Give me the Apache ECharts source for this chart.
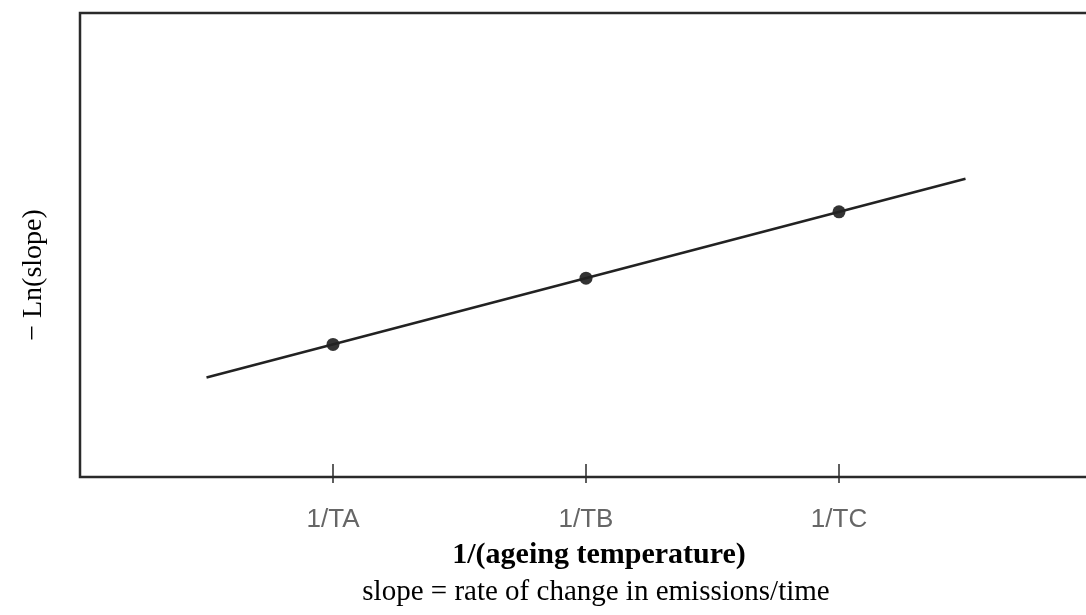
<!DOCTYPE html>
<html><head><meta charset="utf-8">
<script src="https://cdn.jsdelivr.net/npm/echarts@6/dist/echarts.min.js"></script>
<style>html,body{margin:0;padding:0;background:#fff}#c{width:1086px;height:615px}</style>
</head><body><div id="c"></div>
<script>
// tick positions (1/T values, arbitrary units) and labels
const tickValues = [1, 2, 3];
const tickLabels = ['1/TA', '1/TB', '1/TC'];
// measured points: -Ln(slope) at each ageing temperature
const pointX = [1, 2, 3];
const pointY = [2, 3, 4];
// fitted line end points
const fitX = [0.5, 3.5];
const fitY = [1.5, 4.5];
const xTitle = '1/(ageing temperature)';
const xSubtitle = 'slope = rate of change in emissions/time';
const yTitle = '\u2212 Ln(slope)';

const labelMap = {};
tickValues.forEach((v, i) => labelMap[v] = tickLabels[i]);

const chart = echarts.init(document.getElementById('c'));
chart.setOption({
  animation: false,
  grid: { left: 80, top: 13, width: 1012, height: 464, outerBoundsMode: 'none', containLabel: false,
    show: true, borderWidth: 2.5, borderColor: '#2a2a2a', backgroundColor: 'transparent' },
  xAxis: [{
    type: 'value', min: 0, max: 4, interval: 1,
    axisLine: { show: false },
    splitLine: { show: false },
    axisTick: { show: true, length: 6, inside: false, lineStyle: { color: '#2a2a2a', width: 1.5 }, customValues: tickValues },
    axisLabel: { show: true, margin: 30, fontFamily: 'Liberation Sans, Arial, sans-serif', fontSize: 26, color: '#666',
      customValues: tickValues, formatter: v => labelMap[v] || '' }
  }, {
    type: 'value', min: 0, max: 4, interval: 1, position: 'bottom',
    axisLine: { show: false }, splitLine: { show: false }, axisLabel: { show: false },
    axisTick: { show: true, inside: true, length: 13, lineStyle: { color: '#2a2a2a', width: 1.5 }, customValues: tickValues }
  }],
  yAxis: {
    type: 'value', min: 0, max: 7,
    axisLine: { show: false }, axisTick: { show: false }, axisLabel: { show: false }, splitLine: { show: false }
  },
  series: [{
    type: 'line', xAxisIndex: 0,
    data: fitX.map((x, i) => [x, fitY[i]]),
    symbol: 'none', lineStyle: { color: '#222', width: 2.5 }
  }, {
    type: 'scatter', xAxisIndex: 0,
    data: pointX.map((x, i) => [x, pointY[i]]),
    symbolSize: 13, itemStyle: { color: '#000' }
  }],
  graphic: [{
    type: 'text', x: 599, y: 555,
    style: { text: xTitle, font: 'bold 30px "Liberation Serif", serif', fill: '#000', align: 'center', verticalAlign: 'middle' }
  }, {
    type: 'text', x: 596, y: 592,
    style: { text: xSubtitle, font: '29px "Liberation Serif", serif', fill: '#000', align: 'center', verticalAlign: 'middle' }
  }, {
    type: 'text', x: 34, y: 275, rotation: Math.PI / 2,
    style: { text: yTitle, font: '28px "Liberation Serif", serif', fill: '#000', align: 'center', verticalAlign: 'middle' }
  }]
});
</script></body></html>
